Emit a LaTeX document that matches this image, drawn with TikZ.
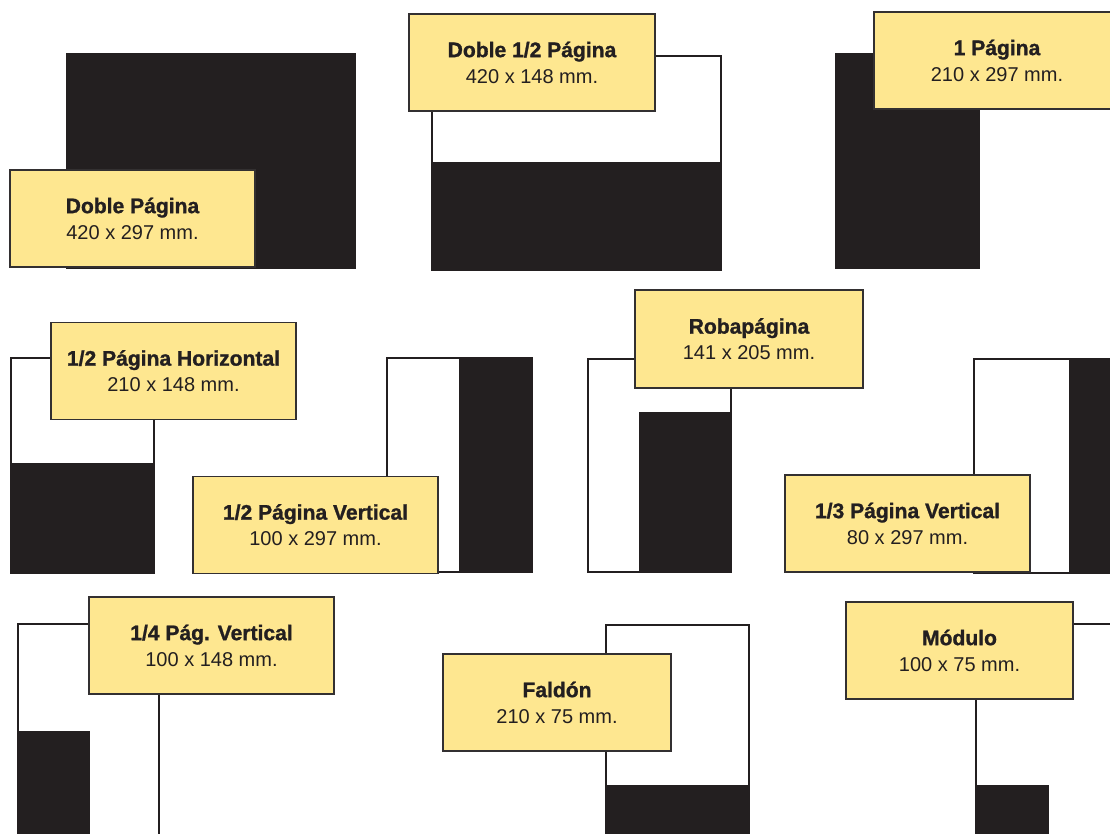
\documentclass[tikz,border=0pt]{standalone}
\usepackage{fontspec}
\setmainfont{Liberation Sans}
\newfontfamily\heavyfont[FakeBold=1.2]{Liberation Sans Bold}
\definecolor{labyellow}{HTML}{FEE790}
\definecolor{ink}{HTML}{231F20}
\definecolor{labborder}{HTML}{333031}
\tikzset{
  lab/.style={draw=labborder, fill=labyellow, line width=1pt, inner sep=0pt,
    minimum width=#1, minimum height=72.75pt, align=center, text=ink,
    font=\fontsize{15}{19.5}\selectfont},
  lab/.default=183.75pt,
  pageout/.style={draw=ink, fill=white, line width=1.1pt},
  adfill/.style={fill=ink}
}
\newcommand{\labtext}[2]{{\heavyfont\fontsize{15.8}{19.5}\selectfont #1}\\#2}
\begin{document}
\begin{tikzpicture}[x=0.75pt,y=-0.75pt]
\useasboundingbox (0,0) rectangle (1110,834);
\begin{scope}
\clip (0,0) rectangle (1110,834);
% page outlines
\draw[pageout] (432,56) rectangle (721,270);
\draw[pageout] (11,358) rectangle (154,573);
\draw[pageout] (387,358) rectangle (532,572);
\draw[pageout] (588,359) rectangle (731,572);
\draw[pageout] (974,359) rectangle (1125,573);
\draw[pageout] (18,624) rectangle (159,850);
\draw[pageout] (606,625) rectangle (749,850);
\draw[pageout] (976,624) rectangle (1125,850);
% ad areas
\fill[adfill] (66,53) rectangle (356,269);
\fill[adfill] (432,162) rectangle (721,270);
\fill[adfill] (835,53) rectangle (980,269);
\fill[adfill] (11,463) rectangle (154,573);
\fill[adfill] (459,357) rectangle (532,572);
\fill[adfill] (639,412) rectangle (731,572);
\fill[adfill] (1069,359) rectangle (1125,573);
\fill[adfill] (18,731) rectangle (90,850);
\fill[adfill] (606,785) rectangle (749,850);
\fill[adfill] (976,785) rectangle (1049,850);
% labels
\node[lab] (dp) at (132.5,218.5) {\labtext{Doble Página}{420 x 297 mm.}};
\node[lab=184.5pt] (dmp) at (532,62.5) {\labtext{Doble 1/2 Página}{420 x 148 mm.}};
\node[lab=184.5pt] (up) at (997,60.5) {\labtext{1 Página}{210 x 297 mm.}};
\node[lab] (mph) at (173.5,371) {\labtext{1/2 Página Horizontal}{210 x 148 mm.}};
\node[lab] (mpv) at (315.5,525) {\labtext{1/2 Página Vertical}{100 x 297 mm.}};
\node[lab=171pt, minimum height=73.5pt] (rob) at (749,339) {\labtext{Robapágina}{141 x 205 mm.}};
\node[lab] (tpv) at (907.5,523.5) {\labtext{1/3 Página Vertical}{80 x 297 mm.}};
\node[lab] (cpv) at (211.5,645.5) {\labtext{1/4 Pág. Vertical}{100 x 148 mm.}};
\node[lab=171pt] (fal) at (557,702.5) {\labtext{Faldón}{210 x 75 mm.}};
\node[lab=170.25pt] (mod) at (959.5,650.5) {\labtext{Módulo}{100 x 75 mm.}};
\end{scope}
\end{tikzpicture}
\end{document}
